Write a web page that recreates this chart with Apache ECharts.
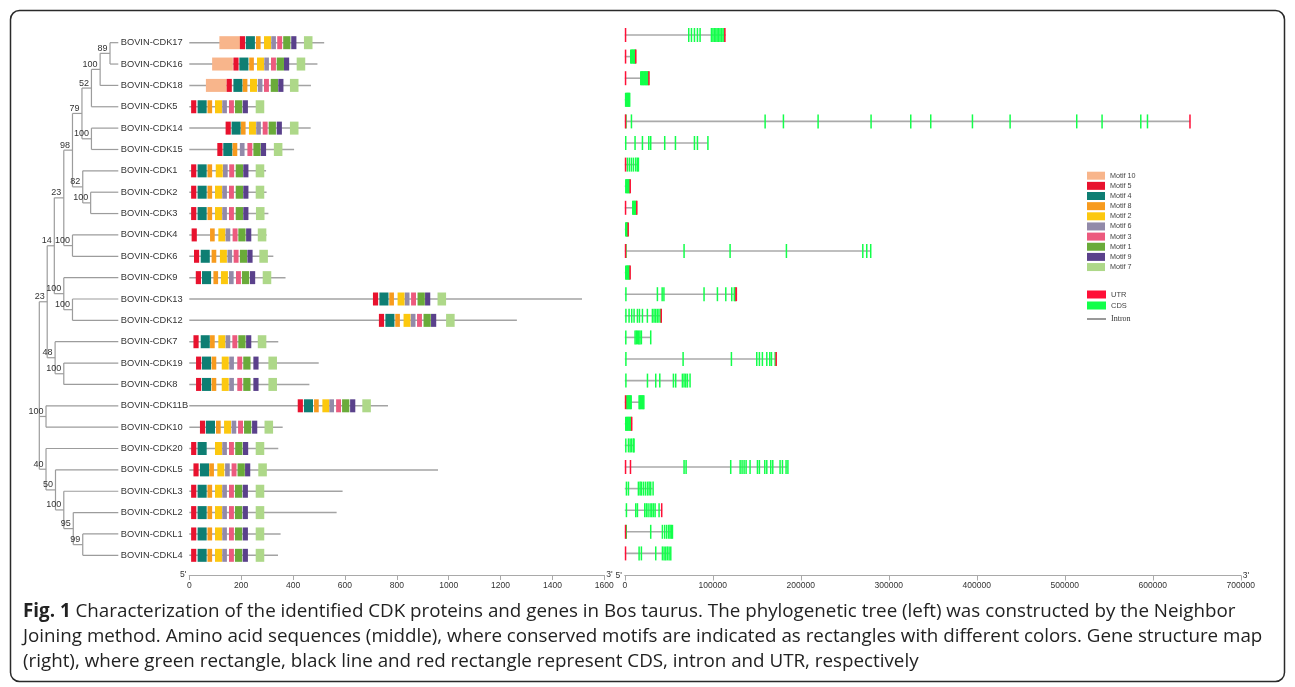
<!DOCTYPE html>
<html>
<head>
<meta charset="utf-8">
<script src="https://cdn.jsdelivr.net/npm/echarts@6/dist/echarts.min.js"></script>
<style>
  html, body { margin: 0; padding: 0; background: #ffffff; }
  #chart { width: 1295px; height: 687px; }
</style>
</head>
<body>
<div id="chart"></div>
<script>
// ---------- data ----------
const genes = ['BOVIN-CDK17', 'BOVIN-CDK16', 'BOVIN-CDK18', 'BOVIN-CDK5', 'BOVIN-CDK14', 'BOVIN-CDK15',
  'BOVIN-CDK1', 'BOVIN-CDK2', 'BOVIN-CDK3', 'BOVIN-CDK4', 'BOVIN-CDK6', 'BOVIN-CDK9', 'BOVIN-CDK13',
  'BOVIN-CDK12', 'BOVIN-CDK7', 'BOVIN-CDK19', 'BOVIN-CDK8', 'BOVIN-CDK11B', 'BOVIN-CDK10', 'BOVIN-CDK20',
  'BOVIN-CDKL5', 'BOVIN-CDKL3', 'BOVIN-CDKL2', 'BOVIN-CDKL1', 'BOVIN-CDKL4'];

// Neighbor-Joining tree: [bootstrap, node depth, children]; leaves sit at depth 100
const tree = ['', 0, [
  ['23', 10, [
    ['14', 19, [
      ['23', 31, [
        ['98', 42, [
          ['79', 54, [
            ['52', 66, [
              ['100', 77, [
                ['89', 89.5, ['BOVIN-CDK17', 'BOVIN-CDK16']],
                'BOVIN-CDK18']],
              'BOVIN-CDK5']],
            ['100', 66, ['BOVIN-CDK14', 'BOVIN-CDK15']]]],
          ['82', 55, ['BOVIN-CDK1', ['100', 65, ['BOVIN-CDK2', 'BOVIN-CDK3']]]]]],
        ['100', 42, ['BOVIN-CDK4', 'BOVIN-CDK6']]]],
      ['100', 31, ['BOVIN-CDK9', ['100', 42, ['BOVIN-CDK13', 'BOVIN-CDK12']]]]]],
    ['48', 20, ['BOVIN-CDK7', ['100', 31, ['BOVIN-CDK19', 'BOVIN-CDK8']]]]]],
  ['100', 8.5, ['BOVIN-CDK11B', 'BOVIN-CDK10']],
  ['40', 8.5, ['BOVIN-CDK20',
    ['50', 20.5, ['BOVIN-CDKL5',
      ['100', 31, ['BOVIN-CDKL3',
        ['95', 43, ['BOVIN-CDKL2',
          ['99', 55, ['BOVIN-CDKL1', 'BOVIN-CDKL4']]]]]]]]]]
]];

// protein lengths (aa)
const proteinLength = [520, 494, 469, 288, 468, 404, 296, 298, 305, 298, 324, 371, 1514, 1263, 343, 499, 463,
  766, 360, 343, 959, 591, 568, 352, 342];

const motifNames = ['Motif 10', 'Motif 5', 'Motif 4', 'Motif 8', 'Motif 2', 'Motif 6', 'Motif 3', 'Motif 1', 'Motif 9', 'Motif 7'];
const motifColors = ['#f8b58b', '#e8122e', '#0e7e73', '#f79b1e', '#fcc80f', '#928aa9', '#ec5a7e', '#6aab3a', '#5a418b', '#aed889'];
const motifWidth = [80, 20, 35, 18, 27, 18, 19, 28, 20, 33];

// motif start positions (aa), in motifNames order; null = motif absent
const motifStart = [
  [116, 195, 218, 257, 288, 316, 339, 362, 393, 442],
  [88, 170, 193, 231, 261, 289, 315, 337, 365, 414],
  [64, 144, 170, 206, 234, 264, 288, 314, 343, 388],
  [null, 7, 32, 70, 99, 127, 153, 176, 206, 256],
  [null, 140, 163, 199, 230, 258, 283, 306, 337, 388],
  [null, 108, 131, 167, null, 195, 224, 247, 276, 326],
  [null, 7, 32, 70, 102, 130, 154, 179, 208, 256],
  [null, 7, 32, 70, 99, 127, 153, 179, 208, 256],
  [null, 7, 32, 70, 99, 127, 153, 179, 208, 257],
  [null, 9, null, 80, 112, 140, 167, 189, 219, 264],
  [null, 18, 44, 86, 118, 147, 171, 195, 224, 270],
  [null, 25, 49, 93, 122, 153, 180, 203, 234, 283],
  [null, 708, 733, 771, 803, 831, 855, 880, 909, 957],
  [null, 731, 756, 794, 826, 854, 878, 903, 932, 990],
  [null, 16, 44, 80, 112, 140, 166, 189, 219, 264],
  [null, 26, 49, 86, 125, 154, 185, 208, 247, 305],
  [null, 26, 49, 86, 125, 154, 185, 208, 247, 305],
  [null, 418, 442, 481, 513, 540, 566, 589, 620, 667],
  [null, 41, 64, 103, 134, 163, 188, 211, 242, 290],
  [null, 7, 32, null, 99, 127, 153, 177, 207, 256],
  [null, 16, 41, 77, 108, 138, 163, 186, 215, 266],
  [null, 7, 32, 70, 99, 127, 153, 176, 206, 256],
  [null, 7, 32, 70, 99, 127, 153, 176, 206, 256],
  [null, 7, 32, 70, 99, 127, 153, 176, 206, 256],
  [null, 7, 32, 70, 99, 127, 153, 176, 206, 256]
];

// gene structures (kb)
const geneLength = [114.6, 12.3, 27.8, 5.2, 642.5, 94.0, 15.0, 6.2, 13.6, 3.9, 279.8, 5.9, 127.6, 41.3, 29.0,
  172.4, 73.6, 21.3, 8.3, 9.9, 184.8, 31.6, 42.4, 53.6, 51.6];

const cdsStart = [
  [71.8, 74.9, 78.3, 81.7, 84.7, 97.6, 99.3, 100.9, 102.6, 104.1, 105.9, 107.4, 109.2, 110.8, 112.2],
  [5.9, 6.7, 7.5, 8.4, 9.1, 9.9, 10.6, 11.2],
  [17.3, 18.3, 19.1, 20.0, 20.8, 21.8, 22.6, 23.4, 24.3, 25.1, 26.0],
  [0.1, 0.9, 1.8, 2.6, 3.3, 4.0, 4.7],
  [0.5, 6.7, 158.6, 179.4, 218.8, 279.0, 324.1, 346.8, 394.2, 437.0, 512.7, 541.5, 585.5, 593.1],
  [0.2, 10.8, 19.2, 26.4, 28.6, 44.5, 56.7, 78.3, 81.7, 93.6],
  [2.1, 4.4, 6.7, 9.0, 11.6, 13.5, 14.6],
  [0.3, 1.1, 1.9, 2.7, 3.4, 4.1, 4.8],
  [8.2, 9.0, 9.9, 10.6, 11.4, 12.2],
  [0.2, 0.8, 1.3, 1.8, 2.4],
  [0.5, 66.5, 118.8, 182.8, 269.6, 274.1, 278.6],
  [0.2, 1.0, 1.7, 2.5, 3.2, 3.9, 4.6],
  [0.4, 36.2, 41.6, 43.6, 89.2, 104.4, 113.9, 120.7, 123.6, 124.6],
  [0.4, 4.0, 7.0, 9.7, 13.5, 15.8, 19.2, 24.8, 30.5, 32.4, 34.3, 36.2, 38.0, 40.0],
  [0.3, 10.8, 12.2, 13.6, 15.0, 16.4, 18.0, 28.6],
  [0.4, 65.4, 120.3, 149.1, 152.1, 155.5, 160.5, 163.9, 165.8, 170.0],
  [0.4, 24.9, 34.3, 38.9, 54.4, 57.0, 64.6, 66.5, 68.4, 70.3, 73.3],
  [1.4, 2.4, 3.4, 4.4, 5.4, 6.4, 15.4, 16.3, 17.2, 18.2, 19.1, 20.0, 20.8],
  [0.2, 1.1, 2.0, 2.9, 3.8, 4.7, 5.6, 6.4],
  [0.3, 3.3, 5.2, 7.0, 9.0, 9.6],
  [66.5, 68.8, 119.5, 130.2, 132.4, 134.7, 137.0, 141.5, 149.9, 152.1, 158.2, 160.5, 165.0, 167.3, 175.6, 178.3, 182.4, 184.5],
  [1.0, 3.3, 14.6, 16.5, 18.0, 20.3, 22.6, 24.9, 26.8, 28.6, 31.3],
  [1.0, 11.6, 13.5, 21.8, 23.7, 25.6, 27.9, 29.8, 31.7, 33.6, 38.1],
  [0.8, 28.6, 41.9, 44.5, 46.8, 49.1, 50.6, 52.1, 53.3],
  [15.4, 18.0, 34.3, 41.9, 43.8, 45.7, 47.6, 49.5, 51.4]
];
const cdsWidth = 0.25; // kb

const utrRanges = [
  [[0, 0.6], [112.8, 114.6]], [[0, 0.5], [11.6, 12.3]], [[0, 0.5], [26.6, 27.8]], [],
  [[0, 0.4], [641.4, 642.5]], [], [[0, 0.5]], [[5.3, 6.2]], [[0, 0.5], [12.8, 13.6]], [[3.0, 3.9]],
  [[0, 0.4]], [[5.2, 5.9]], [[125.5, 127.6]], [[40.6, 41.3]], [], [[171.2, 172.4]], [],
  [[0, 0.5]], [[7.0, 8.3]], [], [[0, 0.5], [5.6, 6.3]], [], [[41.1, 42.4]], [[0, 0.6]], [[0, 0.5]]
];

const proteinTicks = [0, 1600, 200];
const geneTicks = [0, 700000, 100000];

const captionLines = [
  'Characterization of the identified CDK proteins and genes in Bos taurus. The phylogenetic tree (left) was constructed by the Neighbor',
  'Joining method. Amino acid sequences (middle), where conserved motifs are indicated as rectangles with different colors. Gene structure map',
  '(right), where green rectangle, black line and red rectangle represent CDS, intron and UTR, respectively'
];

// ---------- tree layout ----------
const treeEdges = [];
const treeNodes = [];
const treeLabels = [];
function placeNode(node) {
  if (typeof node === 'string') return { y: genes.indexOf(node), depth: 100 };
  const [label, depth, children] = node;
  const placed = children.map(placeNode);
  placed.forEach(c => treeEdges.push([depth, c.y, c.depth, c.y]));
  const ys = placed.map(c => c.y);
  treeEdges.push([depth, Math.min(...ys), depth, Math.max(...ys)]);
  const y = (ys[0] + ys[ys.length - 1]) / 2;
  if (label) { treeNodes.push([depth, y]); treeLabels.push(label); }
  return { y, depth };
}
placeNode(tree);

// ---------- series data ----------
const backbone = proteinLength.map((len, i) => [0, len, i]);
const motifSeriesData = motifNames.map((_, m) => {
  const rows = [];
  motifStart.forEach((starts, i) => {
    if (starts[m] != null) rows.push([starts[m], starts[m] + motifWidth[m], i]);
  });
  return rows;
});
const intronData = geneLength.map((len, i) => [0, len * 1000, i]);
const cdsData = [];
cdsStart.forEach((list, i) => list.forEach(s => cdsData.push([s * 1000, (s + cdsWidth) * 1000, i])));
const utrData = [];
utrRanges.forEach((list, i) => list.forEach(r => utrData.push([r[0] * 1000, r[1] * 1000, i])));

// ---------- styles ----------
const SANS = '"Liberation Sans", Arial, sans-serif';
const CAPTION_FONT = '"Open Sans", sans-serif';
const AXIS_GREY = '#a9a9a9';
const CDS_GREEN = '#12ff4a';
const UTR_RED = '#ff0f37';

function boxRenderer(height, minWidth) {
  return function (params, api) {
    const a = api.coord([api.value(0), api.value(2)]);
    const b = api.coord([api.value(1), api.value(2)]);
    const w = Math.max(b[0] - a[0], minWidth);
    return {
      type: 'rect',
      shape: { x: a[0], y: a[1] - height / 2, width: w, height: height },
      style: { fill: api.visual('color') }
    };
  };
}
function lineRenderer(color, width) {
  return function (params, api) {
    const a = api.coord([api.value(0), api.value(2)]);
    const b = api.coord([api.value(1), api.value(2)]);
    return {
      type: 'line',
      shape: { x1: a[0], y1: a[1], x2: b[0], y2: b[1] },
      style: { stroke: color, lineWidth: width }
    };
  };
}

const series = [];
// tree branches
series.push({
  type: 'custom', name: 'tree', xAxisIndex: 0, yAxisIndex: 0, silent: true, clip: false,
  data: treeEdges, encode: { x: [0, 2], y: [1, 3] },
  renderItem: (params, api) => {
    const a = api.coord([api.value(0), api.value(1)]);
    const b = api.coord([api.value(2), api.value(3)]);
    return { type: 'line', shape: { x1: a[0], y1: a[1], x2: b[0], y2: b[1] },
      style: { stroke: '#9c9c9c', lineWidth: 1.2 } };
  }
});
// bootstrap values
series.push({
  type: 'custom', name: 'bootstrap', xAxisIndex: 0, yAxisIndex: 0, silent: true, clip: false,
  data: treeNodes, encode: { x: 0, y: 1 },
  renderItem: (params, api) => {
    const p = api.coord([api.value(0), api.value(1)]);
    return { type: 'text', x: p[0] - 2.5, y: p[1] - 0.5,
      style: { text: treeLabels[params.dataIndex], align: 'right', verticalAlign: 'bottom',
        fill: '#333333', fontSize: 9, fontFamily: SANS } };
  }
});
// protein backbones
series.push({
  type: 'custom', name: 'protein', xAxisIndex: 1, yAxisIndex: 1, silent: true, clip: false,
  data: backbone, encode: { x: [0, 1], y: 2 },
  renderItem: lineRenderer('#a3a3a3', 1.5)
});
// motifs
motifNames.forEach((name, m) => {
  series.push({
    type: 'custom', name: name, xAxisIndex: 1, yAxisIndex: 1, silent: true, clip: false,
    itemStyle: { color: motifColors[m] },
    data: motifSeriesData[m], encode: { x: [0, 1], y: 2 },
    renderItem: boxRenderer(13, 1)
  });
});
// gene structures
series.push({
  type: 'custom', name: 'Intron', xAxisIndex: 3, yAxisIndex: 2, silent: true, clip: false,
  itemStyle: { color: '#555555' },
  data: intronData, encode: { x: [0, 1], y: 2 },
  renderItem: lineRenderer('#aaaaaa', 1.6)
});
series.push({
  type: 'custom', name: 'CDS', xAxisIndex: 3, yAxisIndex: 2, silent: true, clip: false,
  itemStyle: { color: CDS_GREEN }, data: cdsData, encode: { x: [0, 1], y: 2 },
  renderItem: boxRenderer(14, 1.5)
});
series.push({
  type: 'custom', name: 'UTR', xAxisIndex: 3, yAxisIndex: 2, silent: true, clip: false,
  itemStyle: { color: UTR_RED }, data: utrData, encode: { x: [0, 1], y: 2 },
  renderItem: boxRenderer(14, 1.5)
});

// ---------- axes ----------
const tickLabel = { color: '#333333', fontSize: 8.5, fontFamily: SANS, margin: 6, formatter: v => String(v) };
const endName = { color: '#333333', fontSize: 8.5, fontFamily: SANS, verticalAlign: 'middle', padding: [0, 0, 3, 0] };

function scaleAxis(gridIndex, ticks, offset) {
  return {
    gridIndex, type: 'value', min: ticks[0], max: ticks[1], interval: ticks[2],
    position: 'bottom', offset,
    axisLine: { show: true, lineStyle: { color: AXIS_GREY, width: 1.2 } },
    axisTick: { show: true, length: 5, lineStyle: { color: AXIS_GREY, width: 1 } },
    axisLabel: tickLabel, splitLine: { show: false },
    name: "3'", nameLocation: 'end', nameGap: 2, nameTextStyle: endName, nameMoveOverlap: false
  };
}
function startNameAxis(gridIndex, ticks, offset) {
  return {
    gridIndex, type: 'value', min: ticks[0], max: ticks[1], position: 'bottom', offset,
    axisLine: { show: false }, axisTick: { show: false }, axisLabel: { show: false }, splitLine: { show: false },
    name: "5'", nameLocation: 'start', nameGap: 3, nameTextStyle: endName, nameMoveOverlap: false
  };
}

const rowTop = 32, rowHeight = 534;

const option = {
  animation: false,
  backgroundColor: '#ffffff',
  grid: [
    { left: 39.3, width: 79, top: rowTop, height: rowHeight, containLabel: false, outerBoundsMode: 'none' },
    { left: 189.3, width: 415, top: rowTop, height: rowHeight, containLabel: false, outerBoundsMode: 'none' },
    { left: 624.8, width: 616, top: 24.2, height: 540, containLabel: false, outerBoundsMode: 'none' }
  ],
  xAxis: [
    { gridIndex: 0, type: 'value', min: 0, max: 100, show: false },
    scaleAxis(1, proteinTicks, 9),
    startNameAxis(1, proteinTicks, 9),
    scaleAxis(2, geneTicks, 11.3),
    startNameAxis(2, geneTicks, 11.3)
  ],
  yAxis: [
    { gridIndex: 0, type: 'value', min: -0.5, max: genes.length - 0.5, inverse: true, show: false },
    {
      gridIndex: 1, type: 'category', data: genes, inverse: true,
      axisLine: { show: false }, axisTick: { show: false }, splitLine: { show: false },
      axisLabel: { align: 'left', margin: 68.6, color: '#333333', fontSize: 9.3, fontFamily: SANS, interval: 0 }
    },
    { gridIndex: 2, type: 'category', data: genes, inverse: true, show: false }
  ],
  legend: [
    {
      data: motifNames, orient: 'vertical', left: 1087, top: 171.7, padding: 0,
      itemWidth: 18, itemHeight: 8, itemGap: 2.15, icon: 'rect', selectedMode: false,
      textStyle: { fontSize: 7.2, color: '#444444', fontFamily: SANS, lineHeight: 8 }
    },
    {
      data: ['UTR', 'CDS'], orient: 'vertical', left: 1087, top: 290.5, padding: 0,
      itemWidth: 19, itemHeight: 8, itemGap: 3, icon: 'rect', selectedMode: false,
      textStyle: { fontSize: 7.5, color: '#444444', fontFamily: SANS, lineHeight: 8 }
    },
    {
      data: ['Intron'], orient: 'vertical', left: 1087, top: 314.5, padding: 0,
      itemWidth: 19, itemHeight: 1.2, icon: 'rect', selectedMode: false,
      textStyle: { fontSize: 8, color: '#333333', fontFamily: '"Liberation Serif", serif', lineHeight: 9 }
    }
  ],
  title: {
    left: 23, top: 599.5, padding: 0,
    text: '{b|Fig. 1} ' + captionLines.join('\n'),
    textStyle: {
      fontFamily: CAPTION_FONT, fontSize: 18.8, fontWeight: 'normal', color: '#222222', lineHeight: 25,
      rich: { b: { fontFamily: CAPTION_FONT, fontSize: 18.8, fontWeight: 'bold', color: '#222222', lineHeight: 25 } }
    }
  },
  graphic: [
    {
      type: 'rect', silent: true, z: -10,
      shape: { x: 10.5, y: 10.5, width: 1274, height: 671, r: 9 },
      style: { fill: 'none', stroke: '#2a2a2a', lineWidth: 1.5 }
    }
  ],
  series
};

const chart = echarts.init(document.getElementById('chart'), null, { renderer: 'canvas' });
chart.setOption(option);
</script>
</body>
</html>
